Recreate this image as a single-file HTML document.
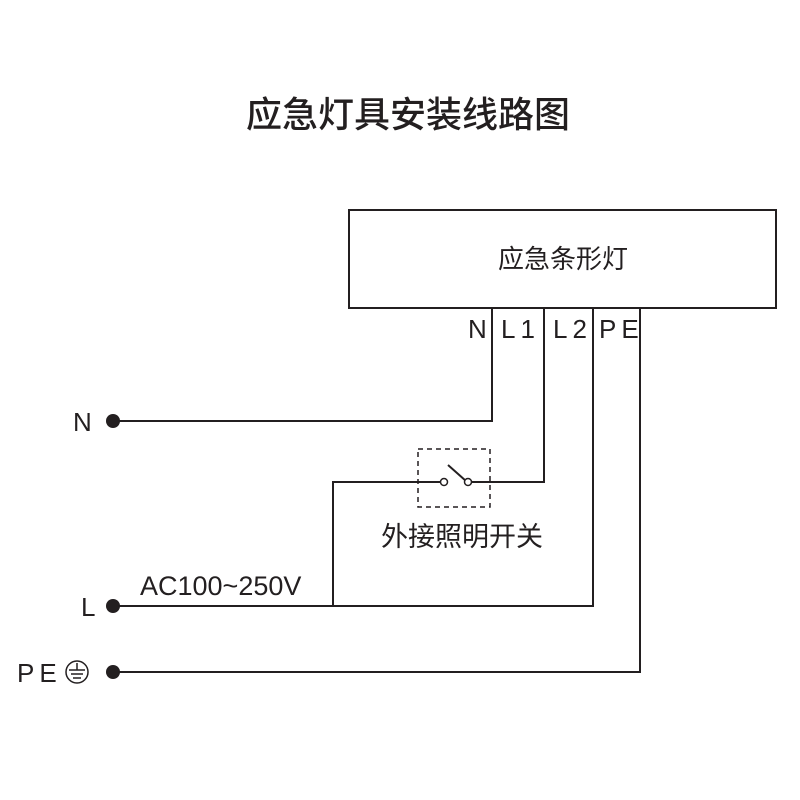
<!DOCTYPE html>
<html><head><meta charset="utf-8"><style>
html,body{margin:0;padding:0;background:#fff;}
svg{display:block}
text{font-family:"Liberation Sans","Noto Sans CJK SC",sans-serif;fill:#231f20}
</style></head><body>
<svg width="800" height="800" viewBox="0 0 800 800" xmlns="http://www.w3.org/2000/svg">
<text x="408" y="127" font-size="36" font-weight="500" text-anchor="middle" font-family="Noto Sans CJK SC, sans-serif">应急灯具安装线路图</text>
<g stroke="#231f20" stroke-width="2" fill="none">
<rect x="349" y="210" width="427" height="98"/>
<polyline points="492,308 492,421 113,421"/>
<polyline points="544,308 544,482 470,482"/>
<polyline points="442,482 333,482 333,606"/>
<polyline points="593,308 593,606 113,606"/>
<polyline points="640,308 640,672 113,672"/>
<line x1="448" y1="465" x2="466" y2="481"/>
<rect x="418" y="449" width="72" height="58" stroke-dasharray="5,4" stroke-width="1.5"/>
</g>
<circle cx="444" cy="482" r="3.5" fill="#fff" stroke="#231f20" stroke-width="1.5"/>
<circle cx="468" cy="482" r="3.5" fill="#fff" stroke="#231f20" stroke-width="1.5"/>
<circle cx="113" cy="421" r="7" fill="#231f20"/>
<circle cx="113" cy="606" r="7" fill="#231f20"/>
<circle cx="113" cy="672" r="7" fill="#231f20"/>
<text x="563" y="268" font-size="26" text-anchor="middle" font-family="Noto Sans CJK SC, sans-serif">应急条形灯</text>
<text x="462" y="546" font-size="27" text-anchor="middle" font-family="Noto Sans CJK SC, sans-serif">外接照明开关</text>
<g font-size="26" letter-spacing="5">
<text x="468" y="338">N</text>
<text x="501" y="338">L1</text>
<text x="553" y="338">L2</text>
<text x="599" y="338">PE</text>
<text x="73" y="431">N</text>
<text x="81" y="616">L</text>
<text x="17" y="682">PE</text>
</g>
<text x="140" y="595" font-size="27">AC100~250V</text>
<g stroke="#231f20" stroke-width="1.5" fill="none">
<circle cx="77" cy="672" r="11"/>
<line x1="77" y1="663" x2="77" y2="670"/>
<line x1="69" y1="670" x2="85" y2="670"/>
<line x1="71" y1="674" x2="83" y2="674"/>
<line x1="73" y1="678" x2="81" y2="678"/>
</g>
</svg>
</body></html>
